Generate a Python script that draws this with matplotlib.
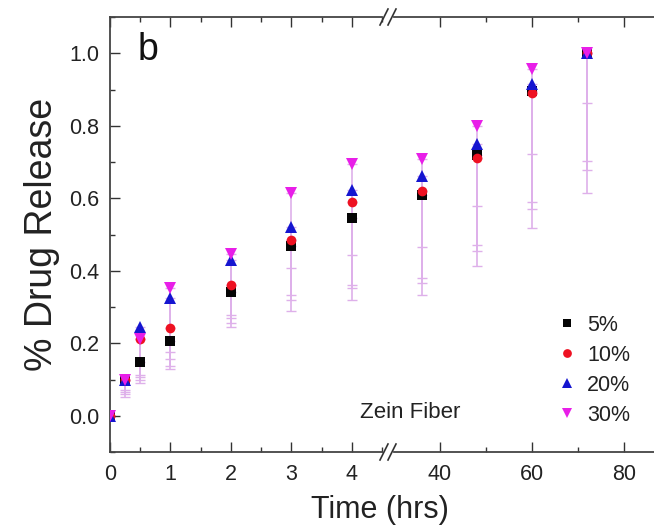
import matplotlib
matplotlib.use("Agg")
import matplotlib.pyplot as plt
from matplotlib.lines import Line2D
from matplotlib.ticker import MultipleLocator, FixedLocator
import numpy as np

plt.rcParams['font.family'] = ['Liberation Sans', 'DejaVu Sans']

# ---------------- data ----------------
times = [0, 0.25, 0.5, 1, 2, 3, 4, 36, 48, 60, 72]
labels = ["5%", "10%", "20%", "30%"]
rel_5 = [0, 0.100, 0.148, 0.205, 0.342, 0.468, 0.546, 0.610, 0.718, 0.897, 1.0]
rel_10 = [0, 0.100, 0.213, 0.241, 0.360, 0.485, 0.590, 0.621, 0.712, 0.890, 1.0]
rel_20 = [0, 0.100, 0.244, 0.326, 0.430, 0.522, 0.622, 0.662, 0.750, 0.916, 1.0]
rel_30 = [0, 0.100, 0.211, 0.352, 0.447, 0.614, 0.695, 0.707, 0.800, 0.956, 1.0]
low_5 = [0, 0.070, 0.112, 0.175, 0.277, 0.408, 0.444, 0.466, 0.580, 0.723, 0.863]
low_10 = [0, 0.066, 0.107, 0.156, 0.271, 0.334, 0.362, 0.380, 0.471, 0.589, 0.704]
low_20 = [0, 0.060, 0.100, 0.137, 0.257, 0.320, 0.353, 0.367, 0.455, 0.570, 0.677]
low_30 = [0, 0.052, 0.090, 0.129, 0.244, 0.290, 0.320, 0.334, 0.414, 0.518, 0.614]
left_ticks = [0, 1, 2, 3, 4]
right_ticks = [40, 60, 80]
y_ticks = [0.0, 0.2, 0.4, 0.6, 0.8, 1.0]

series = [
    (rel_5, low_5, 's', '#050505', 6.5),
    (rel_10, low_10, 'o', '#ee1122', 7.0),
    (rel_20, low_20, '^', '#1515d0', 8.0),
    (rel_30, low_30, 'v', '#e81ee8', 8.0),
]

W, H = 654, 527
fig = plt.figure(figsize=(W / 100, H / 100), dpi=100)

def fx(px):
    return px / W

def fy(py):
    return 1 - py / H

x0, xb1, xb2 = 110, 382, 394
ytop, ybot = 17, 452
left_range = (0, 4.5)
right_range = (30, 90)
right_px_per = 4.6
right_width = (right_range[1] - right_range[0]) * right_px_per

axL = fig.add_axes([fx(x0), fy(ybot), fx(xb1 - x0), (ybot - ytop) / H])
axR = fig.add_axes([fx(xb2), fy(ybot), fx(right_width), (ybot - ytop) / H])

ecol = '#deb0ea'
capcol = '#a882b0'
for ax in (axL, axR):
    for vals, lows, mk, col, ms in series:
        v = np.array(vals)
        err = v - np.array(lows)
        eb = ax.errorbar(times, v, yerr=[err, np.zeros_like(err)], fmt='none',
                         ecolor=ecol, elinewidth=1.2, capsize=3.5, capthick=1.0, zorder=1)
        for c in eb[1]:
            c.set_color(capcol)
    for (vals, lows, mk, col, ms), lab in zip(series, labels):
        ax.plot(times, vals, linestyle='none', marker=mk, color=col, markersize=ms,
                markeredgewidth=0, label=lab, zorder=3)
    ax.set_ylim(-0.1, 1.1)
    ax.tick_params(which='both', direction='in', top=True, width=1.0, color='#333333')
    ax.tick_params(which='major', length=7)
    ax.tick_params(which='minor', length=3.5)
    ax.tick_params(axis='x', labelsize=15.5, pad=9, colors='#333333', labelcolor='#222222')
    for s in ax.spines.values():
        s.set_linewidth(1.3)
        s.set_color('#444444')

axL.set_xlim(*left_range)
axL.xaxis.set_major_locator(FixedLocator(left_ticks))
axL.xaxis.set_minor_locator(MultipleLocator(0.5))
axL.yaxis.set_major_locator(FixedLocator(y_ticks))
axL.yaxis.set_minor_locator(MultipleLocator(0.1))
axL.set_yticklabels([f"{t:.1f}" for t in y_ticks])
axL.tick_params(axis='y', labelsize=15.5, pad=8, labelcolor='#222222')
axL.spines['right'].set_visible(False)
axL.set_ylabel('% Drug Release', fontsize=27, labelpad=6, color='#222222')

axR.set_xlim(*right_range)
axR.xaxis.set_major_locator(FixedLocator(right_ticks))
axR.xaxis.set_minor_locator(FixedLocator([50, 70]))
axR.spines['left'].set_visible(False)
axR.spines['right'].set_visible(False)
axR.tick_params(axis='y', which='both', left=False, right=False, labelleft=False)

# break marks
for yb in (ytop, ybot):
    for dx in (-4, 4):
        cx = (xb1 + xb2) / 2 + dx
        fig.add_artist(Line2D([fx(cx - 4), fx(cx + 4)], [fy(yb + 8), fy(yb - 8)],
                              color='#333333', linewidth=1.2))

fig.text(fx(380), fy(510), 'Time (hrs)', fontsize=22, ha='center', va='center', color='#222222')
fig.text(fx(148), fy(50), 'b', fontsize=27, ha='center', va='center', color='#111111')
fig.text(fx(410), fy(413), 'Zein Fiber', fontsize=16, ha='center', va='center', color='#222222')

handles, labs = axL.get_legend_handles_labels()
fig.legend(handles, labs, loc='lower left', bbox_to_anchor=(fx(556), fy(426)),
           frameon=False, fontsize=15.5, handlelength=1.0, handletextpad=0.45,
           labelspacing=0.42, borderpad=0.0, borderaxespad=0.0, labelcolor='#222222',
           markerscale=0.9)

fig.savefig('out.png', dpi=100)
